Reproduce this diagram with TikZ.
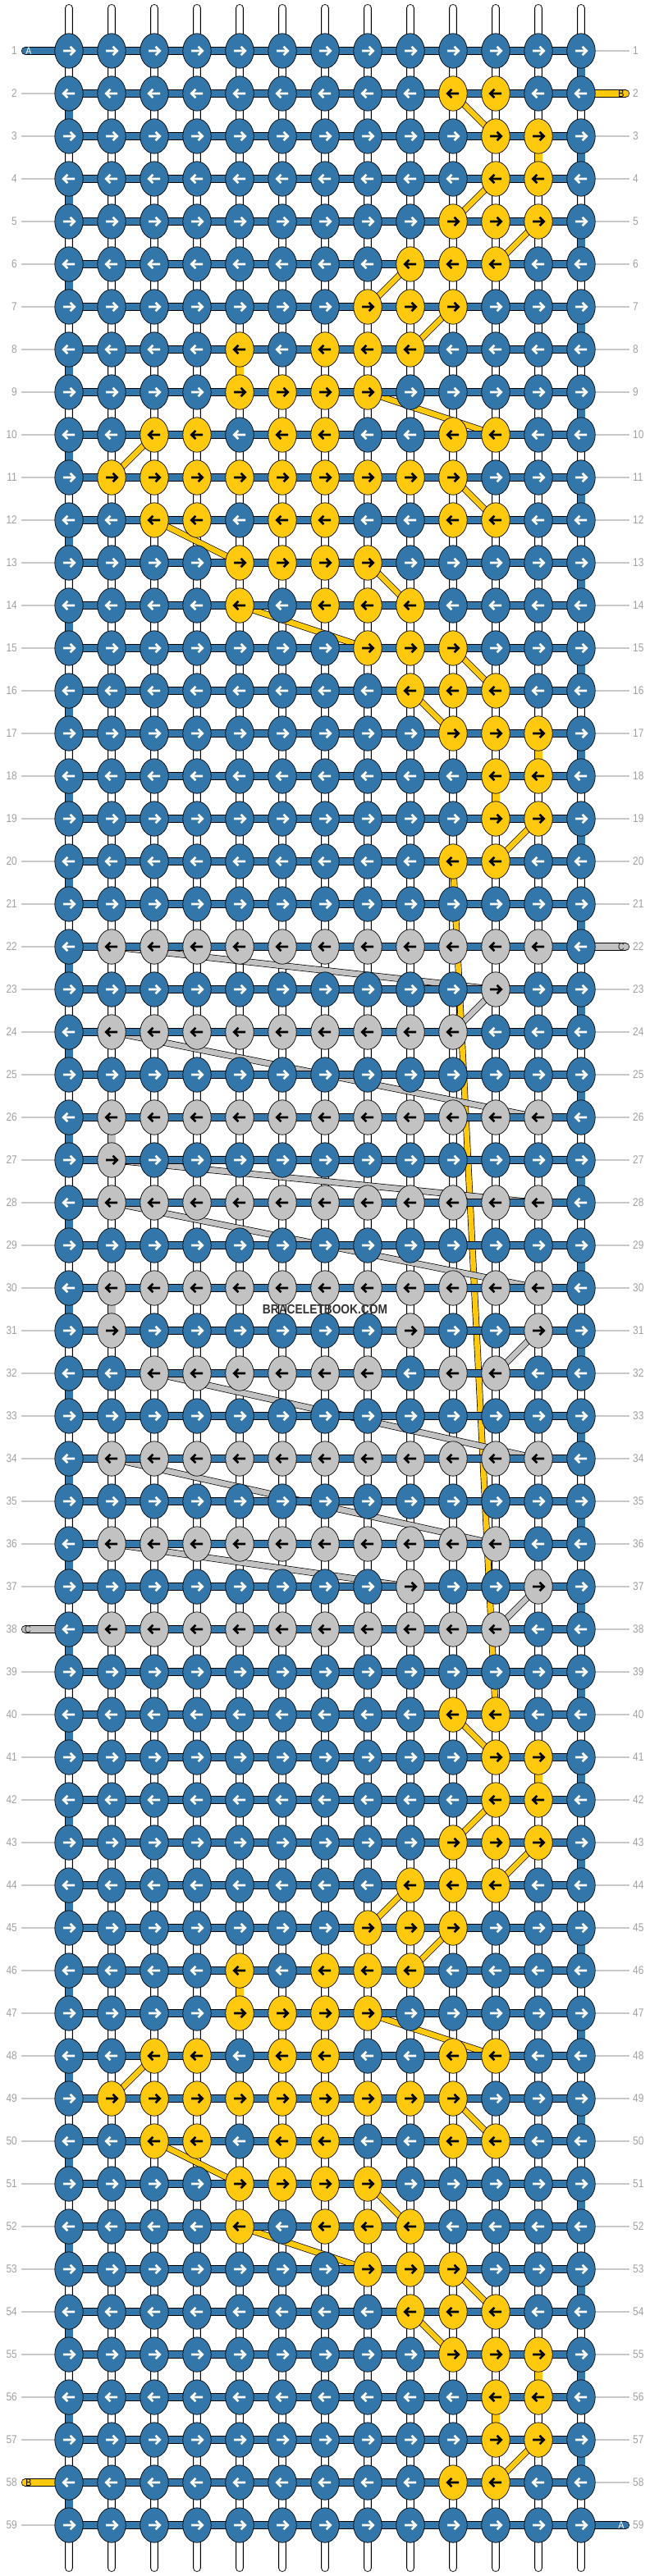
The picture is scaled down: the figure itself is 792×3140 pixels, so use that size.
\documentclass[tikz,border=0pt]{standalone}
\usepackage{fontspec}
\setmainfont{Liberation Sans}
\usetikzlibrary{shapes.geometric}
\definecolor{c0}{RGB}{51,118,170}
\definecolor{c1}{RGB}{255,201,14}
\definecolor{c2}{RGB}{194,194,194}
\colorlet{a0}{white}
\colorlet{a1}{black}
\colorlet{a2}{black}
\definecolor{lblgray}{RGB}{160,160,160}
\definecolor{linegray}{RGB}{200,200,200}
\definecolor{wmcol}{RGB}{51,51,51}
\definecolor{stripin}{RGB}{215,215,215}
\pgfdeclarelayer{bg}
\pgfdeclarelayer{strips}
\pgfdeclarelayer{diag}
\pgfdeclarelayer{bars}
\pgfdeclarelayer{top}
\pgfsetlayers{bg,strips,diag,bars,main,top}
\tikzset{
  knot/.style={ellipse, draw=black, line width=0.7pt, minimum width=34.4pt, minimum height=42.4pt, inner sep=0pt},
  arw/.style={line width=2.6pt, line cap=butt, line join=miter},
  band/.style={draw=black, line width=0.7pt, double=#1, double distance=6.6pt},
  hbar/.style={draw=black, line width=0.7pt, double=#1, double distance=8.8pt},
  vlink/.style={draw=black, line width=0.7pt, double=#1, double distance=9pt},
  tailline/.style={draw=black, line width=0.7pt, double=#1, double distance=8.8pt, line cap=round},
  lbl/.style={text=lblgray, font=\fontsize{14}{14}\selectfont, inner sep=0pt},
  lblline/.style={draw=linegray, line width=1.2pt},
  taillbl/.style={font=\fontsize{12.5}{12.5}\selectfont, inner sep=0pt},
}
\begin{document}
\begin{tikzpicture}[x=1pt,y=-1pt]
\useasboundingbox (0,0) rectangle (792,3140);
\begin{pgfonlayer}{bg}
\fill[white] (0,0) rectangle (792,3140);
\end{pgfonlayer}
% knots
\foreach \rowlist [count=\rr] in {%
{0,0,0,0,0,0,0,0,0,0,0,0,0},%1
{0,0,0,0,0,0,0,0,0,1,1,0,0},%2
{0,0,0,0,0,0,0,0,0,0,1,1,0},%3
{0,0,0,0,0,0,0,0,0,0,1,1,0},%4
{0,0,0,0,0,0,0,0,0,1,1,1,0},%5
{0,0,0,0,0,0,0,0,1,1,1,0,0},%6
{0,0,0,0,0,0,0,1,1,1,0,0,0},%7
{0,0,0,0,1,0,1,1,1,0,0,0,0},%8
{0,0,0,0,1,1,1,1,0,0,0,0,0},%9
{0,0,1,1,0,1,1,0,0,1,1,0,0},%10
{0,1,1,1,1,1,1,1,1,1,0,0,0},%11
{0,0,1,1,0,1,1,0,0,1,1,0,0},%12
{0,0,0,0,1,1,1,1,0,0,0,0,0},%13
{0,0,0,0,1,0,1,1,1,0,0,0,0},%14
{0,0,0,0,0,0,0,1,1,1,0,0,0},%15
{0,0,0,0,0,0,0,0,1,1,1,0,0},%16
{0,0,0,0,0,0,0,0,0,1,1,1,0},%17
{0,0,0,0,0,0,0,0,0,0,1,1,0},%18
{0,0,0,0,0,0,0,0,0,0,1,1,0},%19
{0,0,0,0,0,0,0,0,0,1,1,0,0},%20
{0,0,0,0,0,0,0,0,0,0,0,0,0},%21
{0,2,2,2,2,2,2,2,2,2,2,2,0},%22
{0,0,0,0,0,0,0,0,0,0,2,0,0},%23
{0,2,2,2,2,2,2,2,2,2,0,0,0},%24
{0,0,0,0,0,0,0,0,0,0,0,0,0},%25
{0,2,2,2,2,2,2,2,2,2,2,2,0},%26
{0,2,0,0,0,0,0,0,0,0,0,0,0},%27
{0,2,2,2,2,2,2,2,2,2,2,2,0},%28
{0,0,0,0,0,0,0,0,0,0,0,0,0},%29
{0,2,2,2,2,2,2,2,2,2,2,2,0},%30
{0,2,0,0,0,0,0,0,2,0,0,2,0},%31
{0,0,2,2,2,2,2,2,0,2,2,0,0},%32
{0,0,0,0,0,0,0,0,0,0,0,0,0},%33
{0,2,2,2,2,2,2,2,2,2,2,2,0},%34
{0,0,0,0,0,0,0,0,0,0,0,0,0},%35
{0,2,2,2,2,2,2,2,2,2,2,0,0},%36
{0,0,0,0,0,0,0,0,2,0,0,2,0},%37
{0,2,2,2,2,2,2,2,2,2,2,0,0},%38
{0,0,0,0,0,0,0,0,0,0,0,0,0},%39
{0,0,0,0,0,0,0,0,0,1,1,0,0},%40
{0,0,0,0,0,0,0,0,0,0,1,1,0},%41
{0,0,0,0,0,0,0,0,0,0,1,1,0},%42
{0,0,0,0,0,0,0,0,0,1,1,1,0},%43
{0,0,0,0,0,0,0,0,1,1,1,0,0},%44
{0,0,0,0,0,0,0,1,1,1,0,0,0},%45
{0,0,0,0,1,0,1,1,1,0,0,0,0},%46
{0,0,0,0,1,1,1,1,0,0,0,0,0},%47
{0,0,1,1,0,1,1,0,0,1,1,0,0},%48
{0,1,1,1,1,1,1,1,1,1,0,0,0},%49
{0,0,1,1,0,1,1,0,0,1,1,0,0},%50
{0,0,0,0,1,1,1,1,0,0,0,0,0},%51
{0,0,0,0,1,0,1,1,1,0,0,0,0},%52
{0,0,0,0,0,0,0,1,1,1,0,0,0},%53
{0,0,0,0,0,0,0,0,1,1,1,0,0},%54
{0,0,0,0,0,0,0,0,0,1,1,1,0},%55
{0,0,0,0,0,0,0,0,0,0,1,1,0},%56
{0,0,0,0,0,0,0,0,0,0,1,1,0},%57
{0,0,0,0,0,0,0,0,0,1,1,0,0},%58
{0,0,0,0,0,0,0,0,0,0,0,0,0}%59
}{
  \pgfmathtruncatemacro\yy{62+52*(\rr-1)}
  \pgfmathtruncatemacro\dir{1-2*mod(\rr+1,2)}
  \foreach \v [count=\cc] in \rowlist {
    \pgfmathtruncatemacro\xx{84+52*(\cc-1)}
    \node[knot, fill=c\v] (k-\rr-\cc) at (\xx,\yy) {};
    \draw[arw, draw=a\v, shift={(\xx,\yy)}, xscale=\dir] (-7,0) -- (6,0) (1.6,-5.2) -- (6.8,0) -- (1.6,5.2);
  }
}
% vertical warp threads
\foreach \cc in {1,...,13} {
  \pgfmathtruncatemacro\xx{84+52*(\cc-1)}
  \coordinate (st-\cc) at (\xx,10);
  \coordinate (sb-\cc) at (\xx,3130);
  \begin{pgfonlayer}{strips}
    \draw[line width=10pt, black, line cap=round] (st-\cc) -- (sb-\cc);
    \draw[line width=8.6pt, stripin, line cap=round] (st-\cc) -- (sb-\cc);
    \draw[line width=6.4pt, white, line cap=round] (st-\cc) -- (sb-\cc);
  \end{pgfonlayer}
}
% horizontal bars (string A), edge turns, straight colour links, tails
\begin{pgfonlayer}{bars}
\foreach \rr in {1,...,59} {
  \draw[hbar=c0] (k-\rr-1.center) -- (k-\rr-13.center);
}
\foreach \rr in {1,3,...,57} {
  \pgfmathtruncatemacro\nx{\rr+1}
  \draw[vlink=c0] (k-\rr-13.center) -- (k-\nx-13.center);
}
\foreach \rr in {2,4,...,58} {
  \pgfmathtruncatemacro\nx{\rr+1}
  \draw[vlink=c0] (k-\rr-1.center) -- (k-\nx-1.center);
}
\foreach \ra/\ca/\rb/\cb/\col in {3/12/4/12/c1, 8/5/9/5/c1, 17/12/18/12/c1, 18/11/19/11/c1,
  41/12/42/12/c1, 46/5/47/5/c1, 55/12/56/12/c1, 56/11/57/11/c1, 26/2/27/2/c2, 30/2/31/2/c2} {
  \draw[vlink=\col] (k-\ra-\ca.center) -- (k-\rb-\cb.center);
}
\coordinate (tl-1) at (31,62);
\coordinate (tr-2) at (762,114);
\coordinate (tr-22) at (762,1154);
\coordinate (tl-38) at (31,1986);
\coordinate (tl-58) at (31,3026);
\coordinate (tr-59) at (762,3078);
\draw[tailline=c0] (tl-1) -- (k-1-1.center);
\draw[tailline=c1] (tr-2) -- (k-2-13.center);
\draw[tailline=c2] (tr-22) -- (k-22-13.center);
\draw[tailline=c2] (tl-38) -- (k-38-1.center);
\draw[tailline=c1] (tl-58) -- (k-58-1.center);
\draw[tailline=c0] (tr-59) -- (k-59-13.center);
\end{pgfonlayer}
% diagonal colour links
\begin{pgfonlayer}{diag}
\foreach \ra/\ca/\rb/\cb/\col in {
  2/10/3/11/c1, 4/11/5/10/c1, 5/12/6/11/c1, 6/9/7/8/c1, 7/10/8/9/c1, 9/8/10/11/c1,
  10/3/11/2/c1, 11/10/12/11/c1, 12/3/13/5/c1, 13/8/14/9/c1, 14/5/15/8/c1, 15/10/16/11/c1,
  16/9/17/10/c1, 19/12/20/11/c1, 20/10/40/11/c1,
  40/10/41/11/c1, 42/11/43/10/c1, 43/12/44/11/c1, 44/9/45/8/c1, 45/10/46/9/c1, 47/8/48/11/c1,
  48/3/49/2/c1, 49/10/50/11/c1, 50/3/51/5/c1, 51/8/52/9/c1, 52/5/53/8/c1, 53/10/54/11/c1,
  54/9/55/10/c1, 57/12/58/11/c1,
  22/2/23/11/c2, 23/11/24/10/c2, 24/2/26/12/c2, 27/2/28/12/c2, 28/2/30/12/c2,
  31/12/32/11/c2, 32/3/34/12/c2, 34/2/36/11/c2, 36/2/37/9/c2, 37/12/38/11/c2} {
  \draw[band=\col] (k-\ra-\ca.center) -- (k-\rb-\cb.center);
}
\end{pgfonlayer}
% tail letters
\node[taillbl, text=white] (lA1) at (35,62) {\scalebox{0.85}[1]{A}};
\node[taillbl, text=black] (lB2) at (757,114) {\scalebox{0.85}[1]{B}};
\node[taillbl, text=black!80] (lC22) at (757,1154) {\scalebox{0.85}[1]{C}};
\node[taillbl, text=black!80] (lC38) at (34,1986) {\scalebox{0.85}[1]{C}};
\node[taillbl, text=black] (lB58) at (35,3026) {\scalebox{0.85}[1]{B}};
\node[taillbl, text=white] (lA59) at (757,3078) {\scalebox{0.85}[1]{A}};
% row numbers
\foreach \rr in {1,...,59} {
  \pgfmathtruncatemacro\yy{62+52*(\rr-1)}
  \node[lbl, anchor=east] (ll-\rr) at (21,\yy) {\scalebox{0.85}[1]{\rr}};
  \node[lbl, anchor=west] (lr-\rr) at (771,\yy) {\scalebox{0.85}[1]{\rr}};
}
\begin{pgfonlayer}{strips}
\foreach \rr in {2,...,37,39,40,...,57,59} {
  \draw[lblline, shorten <=5pt] (ll-\rr.east) -- (k-\rr-1.center);
}
\foreach \rr in {1,3,4,...,21,23,24,...,58} {
  \draw[lblline, shorten <=4pt] (lr-\rr.west) -- (k-\rr-13.center);
}
\end{pgfonlayer}
% watermark
\begin{pgfonlayer}{top}
\node[text=wmcol, font=\bfseries\fontsize{16}{16}\selectfont, inner sep=0pt] (wm) at (396,1596) {\scalebox{0.86}[1]{BRACELETBOOK.COM}};
\end{pgfonlayer}
\end{tikzpicture}
\end{document}
